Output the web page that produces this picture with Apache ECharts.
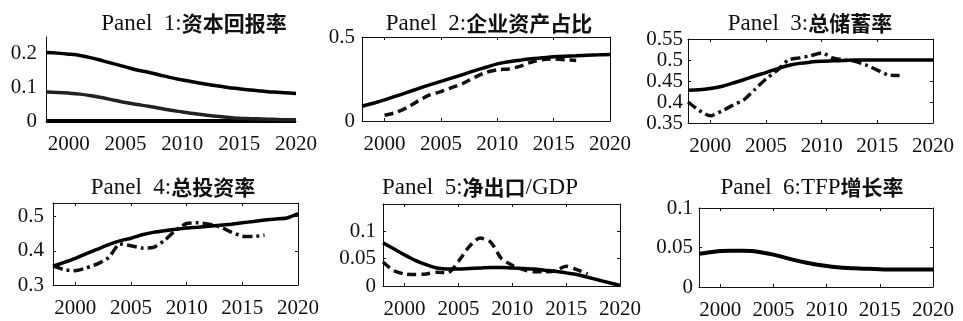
<!DOCTYPE html>
<html>
<head>
<meta charset="utf-8">
<script src="https://cdn.jsdelivr.net/npm/echarts@6/dist/echarts.min.js"></script>
<style>
html,body{margin:0;padding:0;background:#fff}
#chart{width:963px;height:321px}
</style>
</head>
<body>
<div id="chart"></div>
<script>
// ---- data ----
const modelYears = [1998,1999,2000,2001,2002,2003,2004,2005,2006,2007,2008,2009,2010,2011,2012,2013,2014,2015,2016,2017,2018,2019,2020];
const yearTicks = [2000, 2005, 2010, 2015, 2020];

// Panel 1: return on capital
const p1Upper = [0.204,0.202,0.199,0.195,0.188,0.179,0.170,0.161,0.152,0.145,0.137,0.129,0.122,0.116,0.110,0.105,0.100,0.096,0.092,0.089,0.086,0.084,0.082];
const p1Middle = [0.086,0.085,0.083,0.080,0.075,0.069,0.062,0.055,0.049,0.044,0.038,0.032,0.027,0.022,0.018,0.014,0.011,0.008,0.007,0.006,0.005,0.004,0.004];
const p1Lower = [0,0,0,0,0,0,0,0,0,0,0,0,0,0,0,0,0,0,0,0,0,0,0];
const p1Ticks = [0, 0.1, 0.2];

// Panel 2: share of enterprise assets
const p2Model = [0.088,0.106,0.126,0.148,0.170,0.193,0.215,0.236,0.257,0.278,0.300,0.320,0.340,0.353,0.362,0.370,0.376,0.382,0.386,0.389,0.392,0.394,0.396];
const p2DataYears = [2000,2001,2002,2003,2004,2005,2006,2007,2008,2009,2010,2011,2012,2013,2014,2015,2016,2017];
const p2Data = [0.034,0.050,0.080,0.120,0.155,0.175,0.200,0.225,0.260,0.290,0.305,0.310,0.325,0.350,0.365,0.370,0.365,0.360];
const p2Ticks = [0, 0.5];

// Panel 3: gross saving rate
const p3Model = [0.428,0.429,0.432,0.437,0.445,0.453,0.462,0.470,0.479,0.487,0.492,0.495,0.497,0.498,0.499,0.5,0.5,0.5,0.5,0.5,0.5,0.5,0.5];
const dataYears = [1998,1999,2000,2001,2002,2003,2004,2005,2006,2007,2008,2009,2010,2011,2012,2013,2014,2015,2016,2017];
const p3Data = [0.400,0.380,0.367,0.378,0.392,0.405,0.430,0.455,0.475,0.500,0.505,0.510,0.517,0.505,0.500,0.497,0.488,0.476,0.464,0.463];
const p3Ticks = [0.35, 0.4, 0.45, 0.5, 0.55];

// Panel 4: gross investment rate
const p4Model = [0.355,0.366,0.378,0.392,0.405,0.418,0.429,0.437,0.447,0.454,0.459,0.463,0.467,0.469,0.472,0.475,0.478,0.482,0.486,0.490,0.493,0.496,0.509];
const p4Data = [0.355,0.345,0.342,0.350,0.362,0.380,0.420,0.415,0.408,0.410,0.430,0.460,0.480,0.482,0.478,0.470,0.455,0.443,0.442,0.446];
const p4Ticks = [0.3, 0.4, 0.5];

// Panel 5: net exports / GDP
const p5Model = [0.079,0.068,0.057,0.047,0.039,0.033,0.031,0.031,0.032,0.033,0.034,0.034,0.033,0.032,0.031,0.029,0.027,0.024,0.021,0.016,0.011,0.006,0.001];
const p5Data = [0.044,0.028,0.022,0.021,0.022,0.025,0.024,0.045,0.072,0.088,0.080,0.050,0.038,0.030,0.026,0.026,0.028,0.036,0.030,0.022];
const p5Ticks = [0, 0.05, 0.1];

// Panel 6: TFP growth
const p6Model = [0.042,0.044,0.0455,0.046,0.046,0.0455,0.0435,0.041,0.0375,0.034,0.031,0.0285,0.0265,0.025,0.024,0.0235,0.023,0.0225,0.022,0.022,0.022,0.022,0.022];
const p6Ticks = [0, 0.05, 0.1];

// Panel titles: Latin part and Chinese part
const titleParts = [
  [['a', 'Panel  1:'], ['b', '资本回报率']],
  [['a', 'Panel  2:'], ['b', '企业资产占比']],
  [['a', 'Panel  3:'], ['b', '总储蓄率']],
  [['a', 'Panel  4:'], ['b', '总投资率']],
  [['a', 'Panel  5:'], ['b', '净出口'], ['a', '/GDP']],
  [['a', 'Panel  6:TFP'], ['b', '增长率']]
];

// ---- layout ----
const pair = (xs, ys) => ys.map((v, i) => [xs[i], v]);

const panels = [
  {grid: {left: 46, top: 37, width: 250, height: 84}, y: [0, 0.25], ticks: p1Ticks, box: false, titleX: 189, titleY: 20, ym: 9},
  {grid: {left: 362, top: 37, width: 248, height: 84}, y: [0, 0.5], ticks: p2Ticks, box: true, titleX: 484, titleY: 20, ym: 7},
  {grid: {left: 688, top: 39, width: 245, height: 84}, y: [0.35, 0.55], ticks: p3Ticks, box: true, titleX: 805, titleY: 20, ym: 5},
  {grid: {left: 53, top: 203, width: 245, height: 82}, y: [0.3, 0.54], ticks: p4Ticks, box: true, titleX: 168, titleY: 184, ym: 9},
  {grid: {left: 383, top: 204, width: 237, height: 82}, y: [0, 0.15], ticks: p5Ticks, box: true, titleX: 475, titleY: 184, ym: 7},
  {grid: {left: 699, top: 208, width: 234, height: 79}, y: [0, 0.1], ticks: p6Ticks, box: true, titleX: 807, titleY: 184, ym: 6}
];

const serif = '"Liberation Serif", "Times New Roman", serif';
const cjk = '"Noto Sans CJK SC", sans-serif';
const ink = '#111';

const grids = [], xAxes = [], yAxes = [], titles = [];
panels.forEach((p, i) => {
  grids.push(Object.assign({containLabel: false}, p.grid));
  titles.push({
    text: titleParts[i].map(([k, s]) => '{' + k + '|' + s + '}').join(''),
    left: p.titleX, top: p.titleY - 13, textAlign: 'center',
    textStyle: {
      fontWeight: 'normal',
      rich: {
        a: {fontFamily: serif, fontSize: 23, fontWeight: 'normal', color: ink},
        b: {fontFamily: cjk, fontSize: 21, fontWeight: 'bold', color: ink}
      }
    }
  });
  const lineStyle = {color: ink, width: 1};
  // bottom + top x axes
  xAxes.push({
    type: 'value', gridIndex: i, position: 'bottom', min: 1998, max: 2020,
    axisLine: {show: true, onZero: false, lineStyle},
    axisTick: {show: p.box, inside: true, length: 3, customValues: yearTicks, lineStyle},
    axisLabel: {customValues: yearTicks, formatter: v => String(v), fontFamily: serif, fontSize: 21, color: ink, margin: 13},
    splitLine: {show: false}
  });
  xAxes.push({
    type: 'value', gridIndex: i, position: 'top', min: 1998, max: 2020,
    axisLine: {show: p.box, onZero: false, lineStyle},
    axisTick: {show: p.box, inside: true, length: 3, customValues: yearTicks, lineStyle},
    axisLabel: {show: false}, splitLine: {show: false}
  });
  yAxes.push({
    type: 'value', gridIndex: i, position: 'left', min: p.y[0], max: p.y[1],
    axisLine: {show: true, onZero: false, lineStyle},
    axisTick: {show: p.box, inside: true, length: 3, customValues: p.ticks, lineStyle},
    axisLabel: {customValues: p.ticks, fontFamily: serif, fontSize: 21, color: ink, margin: p.ym, padding: [4, 0, 0, 0]},
    splitLine: {show: false}
  });
  yAxes.push({
    type: 'value', gridIndex: i, position: 'right', min: p.y[0], max: p.y[1],
    axisLine: {show: p.box, onZero: false, lineStyle},
    axisTick: {show: p.box, inside: true, length: 3, customValues: p.ticks, lineStyle},
    axisLabel: {show: false}, splitLine: {show: false}
  });
});

function line(panel, data, opts) {
  return Object.assign({
    type: 'line', xAxisIndex: panel * 2, yAxisIndex: panel * 2,
    data, showSymbol: false, smooth: 0.35, silent: true, animation: false,
    lineStyle: {color: '#000', width: 3.5, type: 'solid', cap: 'butt'}
  }, opts || {});
}
const dashed = {color: '#111', width: 3.5, type: [9, 5]};
const dashDot = {color: '#111', width: 3.5, type: [10, 4, 3, 4]};

const series = [
  line(0, pair(modelYears, p1Lower), {lineStyle: {color: '#000', width: 4}}),
  line(0, pair(modelYears, p1Middle), {lineStyle: {color: '#222', width: 3.5}}),
  line(0, pair(modelYears, p1Upper)),
  line(1, pair(p2DataYears, p2Data), {lineStyle: dashed, smooth: 0.2}),
  line(1, pair(modelYears, p2Model)),
  line(2, pair(dataYears, p3Data), {lineStyle: dashDot, smooth: 0.2}),
  line(2, pair(modelYears, p3Model)),
  line(3, pair(dataYears, p4Data), {lineStyle: dashDot, smooth: 0.2}),
  line(3, pair(modelYears, p4Model), {smooth: 0.2}),
  line(4, pair(dataYears, p5Data), {lineStyle: dashed, smooth: 0.25}),
  line(4, pair(modelYears, p5Model)),
  line(5, pair(modelYears, p6Model), {lineStyle: {color: '#000', width: 4}})
];

const chart = echarts.init(document.getElementById('chart'), null, {renderer: 'canvas'});
chart.setOption({
  backgroundColor: '#fff',
  animation: false,
  title: titles,
  grid: grids,
  xAxis: xAxes,
  yAxis: yAxes,
  series
});
</script>
</body>
</html>
